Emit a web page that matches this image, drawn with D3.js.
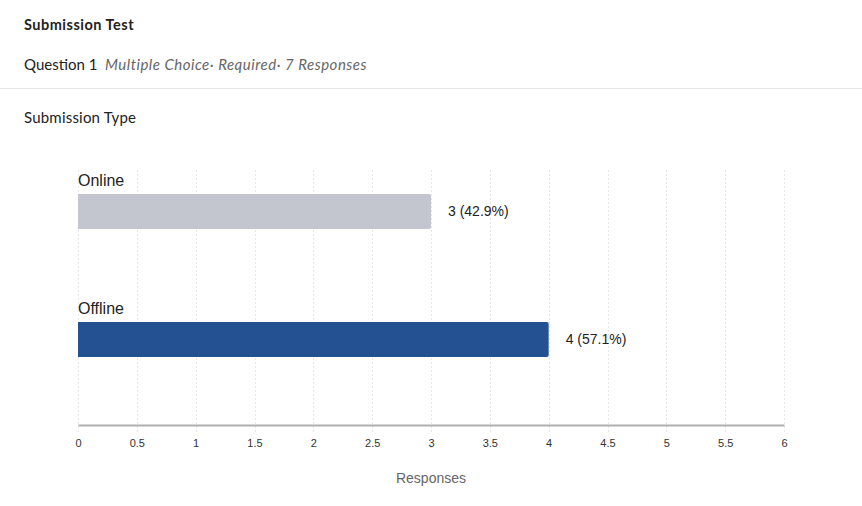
<!DOCTYPE html>
<html>
<head>
<meta charset="utf-8">
<script src="https://cdn.jsdelivr.net/npm/d3@7"></script>
<style>
  body { margin: 0; background: #fff; }
</style>
</head>
<body>
<svg></svg>
<script>
const [width, height] = [862, 506];
const categories = ['Online', 'Offline'];
const counts = [3, 4];
const total = 7;
const ticks = [0, 0.5, 1, 1.5, 2, 2.5, 3, 3.5, 4, 4.5, 5, 5.5, 6];
const colors = ['#c3c6cf', '#235192'];

const headFont = "'Source Sans Pro', Lato, 'Open Sans', sans-serif";
const chartFont = "'Liberation Sans', Arial, Helvetica, sans-serif";

const svg = d3.select('svg').attr('width', width).attr('height', height);

// header
svg.append('text').attr('x', 24).attr('y', 30)
  .attr('font-family', headFont).attr('font-size', 14.5).attr('font-weight', 700)
  .attr('letter-spacing', 0.5)
  .attr('fill', '#222').text('Submission Test');

const q = svg.append('text').attr('x', 24).attr('y', 70)
  .attr('font-family', headFont).attr('font-size', 15).attr('fill', '#222');
q.append('tspan').text('Question 1');
q.append('tspan').attr('x', 105).attr('font-style', 'italic').attr('fill', '#666')
  .attr('letter-spacing', 0.5)
  .text('Multiple Choice\u00b7 Required\u00b7 7 Responses');

svg.append('line').attr('x1', 0).attr('x2', width).attr('y1', 88.5).attr('y2', 88.5)
  .attr('stroke', '#e6e6e6');

svg.append('text').attr('x', 24).attr('y', 123)
  .attr('font-family', headFont).attr('font-size', 15).attr('fill', '#222')
  .attr('letter-spacing', 0.2)
  .text('Submission Type');

// chart
const x = d3.scaleLinear().domain([0, 6]).range([78, 784]);
const y = d3.scaleBand().domain(categories).range([150, 406]);
const barH = 35;
const barOffset = 44;
const axisY = 425;

svg.append('g').selectAll('line').data(ticks).join('line')
  .attr('x1', d => Math.round(x(d)) + 0.5).attr('x2', d => Math.round(x(d)) + 0.5)
  .attr('y1', 170).attr('y2', 432)
  .attr('stroke', '#e6e6e6').attr('stroke-dasharray', '2,2');

const rows = svg.append('g').selectAll('g').data(categories).join('g');

rows.append('path')
  .attr('fill', (d, i) => colors[i])
  .attr('d', (d, i) => {
    const x0 = x(0), x1 = x(counts[i]), y0 = y(d) + barOffset, r = 2;
    return `M${x0},${y0}H${x1 - r}Q${x1},${y0} ${x1},${y0 + r}V${y0 + barH - r}` +
      `Q${x1},${y0 + barH} ${x1 - r},${y0 + barH}H${x0}Z`;
  });

rows.append('text')
  .attr('x', x(0)).attr('y', d => y(d) + barOffset - 8)
  .attr('font-family', chartFont).attr('font-size', 16).attr('fill', '#222')
  .text(d => d);

rows.append('text')
  .attr('x', (d, i) => x(counts[i]) + 17).attr('y', d => y(d) + barOffset + barH / 2)
  .attr('dy', '0.35em')
  .attr('font-family', chartFont).attr('font-size', 14).attr('fill', '#222')
  .text((d, i) => `${counts[i]} (${(counts[i] / total * 100).toFixed(1)}%)`);

const axis = svg.append('g').attr('transform', `translate(0,${axisY})`)
  .call(d3.axisBottom(x).tickValues(ticks).tickSize(0).tickPadding(14)
    .tickFormat(d => String(d)));
axis.select('.domain').attr('stroke', '#b0b0b0').attr('stroke-width', 2);
axis.selectAll('text').attr('font-family', chartFont).attr('font-size', 11)
  .attr('fill', '#333');

svg.append('text').attr('x', (x(0) + x(6)) / 2).attr('y', 483)
  .attr('text-anchor', 'middle')
  .attr('font-family', chartFont).attr('font-size', 14).attr('fill', '#666')
  .text('Responses');
</script>
</body>
</html>
